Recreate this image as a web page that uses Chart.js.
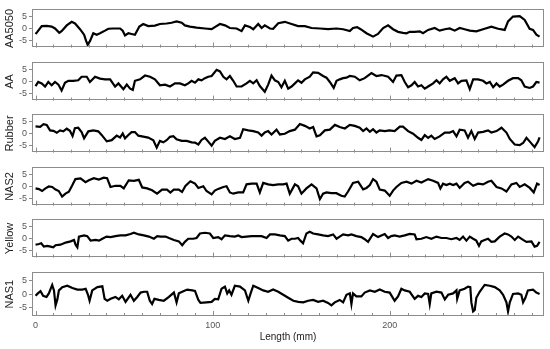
<!DOCTYPE html>
<html>
<head>
<meta charset="utf-8">
<script src="https://cdn.jsdelivr.net/npm/chart.js@4.4.1/dist/chart.umd.min.js"></script>
<style>
  html, body { margin: 0; padding: 0; background: #fff; }
  #wrap { position: relative; width: 550px; height: 349px; overflow: hidden; }
  #wrap canvas { position: absolute; left: 0; }
</style>
</head>
<body>
<div id="wrap"></div>
<script>
// profile readings, [length mm, height]
const aa5050 = [[0,-2.3],[1,-1.4],[3.5,1],[6.3,1.1],[9.1,0.8],[11,0],[13.4,-1.8],[14.7,-1.1],[17.6,1.3],[20.4,2.8],[22.3,2.1],[25.1,-0.3],[27.4,-2.6],[28.5,-5.1],[29.4,-6.8],[30.7,-5.3],[32.6,-2],[34.5,-2.6],[36.4,-2],[39.2,-0.9],[41.1,-0.1],[43.9,0],[47.7,0],[49.2,-0.9],[50.5,-2.9],[52.4,-2],[54.2,-2.3],[56.1,-2.6],[58.6,0.8],[60.8,1.9],[63.6,1],[67.4,1.2],[70.2,1.9],[74,2.1],[76.8,2.4],[79.6,3],[82.5,2.4],[84.3,1.3],[87.1,0.8],[90.9,0.4],[95.6,0],[99.4,-0.3],[101.2,0.6],[104.1,1.9],[106.9,1.3],[109.7,0.2],[113.5,0],[116.3,-1.1],[118.2,1.3],[121,0.6],[122.9,-0.3],[125.7,1.9],[127.6,0.2],[129.4,1.3],[132.3,0],[134.1,-0.1],[137,2.2],[140.7,2.8],[144.5,1.9],[148.2,1],[152,1],[155.8,0.2],[160.5,0],[165.1,-0.3],[169.9,0],[173.6,-0.3],[177.4,-1.1],[179.2,0.2],[181.5,0.6],[183.5,-0.3],[186.8,-2],[190.5,-3.4],[193.3,-2.3],[196.2,0.2],[199,1.3],[201.8,-0.3],[204.6,-1.4],[207.4,-1.8],[209.4,-2],[211.2,-1.4],[214,-1.4],[216.9,-1.2],[218.7,-2],[221.6,-0.6],[225.3,0.2],[228.1,-0.9],[231,-0.3],[233.8,0],[236.6,-0.9],[239.4,0.2],[242.2,-0.3],[245.1,-0.9],[248.8,-1.2],[252.6,-0.3],[257.3,0.8],[261.1,-0.1],[264.8,-0.6],[266.7,3],[269.5,5],[273.3,5.2],[276.1,3.6],[278.9,-0.1],[280.8,-0.6],[282.7,-2.6],[284.5,-3.4]];
const aa = [[0,-1.9],[1.5,-0.2],[3.5,-0.8],[5.4,-2.1],[7.2,-0.2],[9.1,-1.6],[11,-0.2],[12.9,-1.3],[14.7,-3.8],[16.6,-0.5],[18.5,0.3],[21.3,0.3],[24.1,0.5],[26,2],[28.9,2],[30.7,-0.2],[33.6,2],[36.4,1.2],[39.2,0.9],[42.1,0.9],[44.9,-2.1],[46.8,-0.8],[49.6,-3.2],[51.5,-1.3],[53.4,-3],[54.9,-3.5],[56.1,0.3],[59,0.9],[61.8,2.5],[64.6,2],[67.4,0.9],[70.2,-1.6],[73.1,-1.3],[75.9,-2.1],[78.7,-0.8],[81.5,-0.8],[84.3,-1.6],[86.2,-0.8],[88.1,0.3],[90,-0.5],[91.9,0.9],[93.7,0.5],[95.6,1.4],[97.5,2],[99.4,2.3],[102.2,4.9],[104.1,4.2],[106,2],[107.8,0.9],[109.7,2.3],[111.6,0.3],[113.5,-2.1],[116.3,-2.1],[119.1,-0.8],[121,0.3],[122.9,-0.8],[124.8,0.5],[126.6,-1.9],[129.4,-4.3],[131.3,-1.3],[133.2,2.5],[135.1,0.5],[137,-0.2],[138.8,-2.4],[140.7,0.3],[142.6,-3],[144.5,-2.1],[146.4,-0.8],[148.2,0.5],[150.1,-0.5],[152,0.9],[154.8,2],[156.7,3.8],[159.5,3.6],[162.3,2.3],[164.2,1.6],[166.1,-0.2],[168.3,-2.7],[169.9,0.3],[171.7,0.9],[173.6,1.4],[175.5,1.6],[177.4,2.3],[180.2,2],[183,0.5],[185.8,1.4],[189.6,3.5],[192.4,2.3],[195.3,2.7],[199,2],[201.8,-0.2],[203.7,2.5],[206.5,2.7],[208.4,-0.2],[210.3,-2.4],[212.2,-1.6],[214,-0.2],[215.9,-2.1],[217.8,-1.6],[219.7,-3],[221.6,-2.1],[224.4,-0.8],[226.3,0.5],[228.1,-0.8],[230,0.9],[231.9,2],[233.8,0.3],[236.6,1.4],[238.5,-0.8],[240.4,0.3],[243.2,0.5],[245.1,-3.2],[247,0.9],[249.8,0.9],[252.6,0.3],[254.5,-0.8],[256.4,-0.2],[258.3,-2.4],[260.2,-0.8],[262,-2.1],[263.9,-1.3],[266.7,0.3],[269.5,1.4],[272.4,1.4],[274.2,0.5],[276.1,-2.1],[278.9,-2.7],[280.8,-2.1],[282.7,-0.2],[284.5,-0.5]];
const rubber = [[0,3],[2.6,2.8],[4.5,3.9],[6.3,3.6],[8.2,1.3],[10.1,1.1],[12,0.3],[13.8,1.3],[15.7,0.9],[17.6,2],[19.4,1.1],[20.9,-1.1],[22.2,2.2],[24.1,2.4],[26,0.6],[27.4,-2],[29.8,0.9],[32.6,1.3],[35.4,0.9],[37.3,-0.6],[40.2,-3.3],[43,-2.8],[45.8,-0.9],[47.7,-1.7],[49.2,0],[50.5,-2],[52.4,-0.6],[54.2,0.6],[56.1,0.6],[58,-0.9],[60.8,-1.3],[63.6,-1.7],[66.5,-2.8],[68.4,-5.9],[70.2,-3.1],[72.1,-3.7],[74,-2.8],[75.9,-1.4],[77.8,-1.1],[79.6,-2.4],[82.5,-3.1],[85.3,-3.1],[88.1,-3.7],[90,-3.8],[91.9,-4.6],[93.7,-2.7],[95.6,-1.8],[97.5,-3.4],[99.4,-5.1],[101.2,-3.1],[104.1,-1.8],[106.9,-2.3],[109.7,-1.2],[112.5,-2.3],[115.4,-1.8],[117.2,1.8],[120.1,1.3],[122.9,1],[125.7,0.4],[127.6,-0.9],[129.4,0.4],[131.3,1],[133.2,-0.4],[136,1.6],[137.9,-0.4],[140.7,-0.1],[143.5,1],[146.4,1.6],[149.2,4],[152,3.2],[154.8,2.1],[156.7,2.7],[158.6,-1.2],[160.5,-0.7],[163.3,1.3],[166.1,1.6],[169,3.6],[171.7,2.7],[174.6,2.1],[177.4,3.6],[180.2,3.2],[183,2.4],[184.9,1],[186.8,2.1],[188.7,0.7],[190.5,1.8],[192.4,0.4],[194.3,1.3],[197.1,1],[199.9,1.3],[202.7,1],[205.6,2.9],[207.4,2.9],[210.3,1],[213.1,-0.1],[215.9,-1.8],[217.8,-2.7],[219.7,-0.7],[221.6,-1.8],[223.4,-0.9],[225.3,-2.3],[228.1,-1.2],[231,0.4],[233.8,0.4],[235.7,1],[237.6,-1.2],[239.4,1.6],[242.2,1.3],[244.1,-1.8],[246,1],[247.9,-2.3],[249.8,0.4],[252.6,0.7],[255.4,1.3],[257.3,0.4],[260.2,1],[263,2.4],[265.8,0.4],[267.7,-2.3],[270.5,-4.6],[273.3,-4.9],[275.2,-4],[277.1,-1.8],[279,-3.4],[281.7,-5.7],[283.6,-3.4],[284.5,-1.6]];
const nas2 = [[0,-0.8],[1.9,-1.1],[3.7,-1.9],[5.6,-0.8],[7.5,0],[9.4,-0.2],[11.3,-1.3],[13.1,-1.9],[15,-4.2],[16.9,-3],[18.8,-2.2],[20.6,0.3],[22.5,3.1],[25.4,3.4],[28.2,1.8],[30.1,2.6],[32.9,3.5],[35.7,2.9],[38.5,3.7],[40.4,3.5],[42.3,-0.2],[45.1,0.3],[47.9,0.3],[49.8,-0.8],[52.6,2.6],[55.5,2.4],[58.3,2.8],[60.2,-0.4],[63,-0.8],[65.8,-1.6],[68.6,-3],[71.4,-1.3],[74.2,-1.3],[76.1,-2.5],[78,-1.3],[80.8,-1.3],[82.7,-2.3],[84.6,0.2],[87.4,2.2],[90,1.2],[91.9,-0.6],[94.7,0.1],[96.5,-1.9],[99.4,-3.3],[101.2,-1.7],[103.1,-1],[106,-0.2],[107.8,0.1],[109.7,-2.5],[111.6,-3],[114.4,-2.5],[117.2,-2.5],[119.1,0.9],[121.9,1.2],[124.8,1.2],[126.6,-2.5],[128.5,1.5],[131.3,0.9],[134.1,0.6],[137,0.9],[139.8,0.9],[141.7,1.2],[143.5,-3],[146.4,0.9],[148.2,0.1],[150.1,-3],[152.9,-0.8],[155.8,0.9],[158.6,-0.8],[160.5,-5.3],[162.3,-3],[164.2,-2.5],[167,-2.8],[169.8,-2.8],[172.6,-3.9],[174.5,-4.2],[176.4,-2.1],[179.2,1.5],[182.1,2],[184.9,-1.2],[186.8,-0.6],[188.7,0.6],[190.5,3.1],[192.4,2],[194.3,-1.3],[197.1,-1.7],[199.9,-3.9],[201.8,-1.7],[203.7,-0.2],[206.5,1.5],[209.4,2],[212.2,1.2],[215,2.4],[217.8,1.7],[221.6,3.1],[224.4,2.4],[227.2,1.5],[228.5,-0.8],[230,1.2],[231.9,0.6],[233.8,1.2],[235.7,0.6],[237.6,1.2],[239.4,-0.6],[242.2,1.5],[244.1,2],[247,0.3],[249.8,1.2],[252.6,0.9],[255.4,2],[257.3,2.4],[260.2,-0.2],[263,-0.8],[265.8,-2.1],[268.6,0.9],[271.4,1.5],[273.3,-0.2],[276.1,0.9],[279,-0.6],[281.2,-2.5],[283.1,1.2],[284.5,0.6]];
const yellow = [[0,-2.6],[1.9,-2.3],[3.2,-2],[4.7,-3.4],[6.6,-3.1],[8.5,-3.4],[10,-3.7],[11.3,-2.8],[14.1,-2.6],[17,-1.7],[19.8,-1.2],[21.7,-0.6],[22.6,-2.6],[23.6,-3.7],[24.5,0.8],[27.4,1.3],[29.2,1],[31.1,-0.9],[33.9,-0.6],[35.8,-0.9],[37.7,-0.1],[40.1,0.8],[42.4,0.6],[45.1,1],[47.9,1.3],[50.8,1.3],[53.6,1.9],[55.5,2.4],[58.3,1.7],[61.1,1.3],[64,0.8],[66.8,-0.1],[68.7,1],[70.5,0.8],[73.4,0.8],[75.3,0.2],[78.1,-0.6],[80.9,-1.2],[82.8,-2.8],[84.3,-1.4],[86.2,-0.1],[89,-0.1],[90.9,0.2],[92.8,2.1],[95.6,2.4],[98.4,2.1],[100.3,0.2],[103.1,0.6],[105,-0.3],[106.9,1.3],[109.7,1],[112.5,0.8],[114.4,1.3],[116.3,0.6],[119.1,0.8],[122,1],[124.8,1],[127.6,1],[130.4,0.2],[132.3,1.7],[135.1,1.7],[137.9,1.3],[140.7,1],[142.6,-0.9],[144.5,-0.1],[146.4,-0.1],[148.2,0.2],[149.5,-0.9],[151,-2],[152.9,2.1],[154.8,2.8],[156.7,2.1],[159.5,1.7],[162.3,1.3],[165.1,1],[168,1.7],[169.9,-0.1],[171.7,0.8],[173.6,1.7],[176.4,1.3],[178.3,1.7],[181.1,1],[183.9,0.6],[185.8,-0.3],[187.7,-1.4],[190.5,1.9],[193.3,0.6],[195.2,1.3],[197.1,1.9],[199,0.2],[200.8,1],[202.7,1.3],[205.5,0.8],[208.4,1.3],[211.2,1.9],[214,1.7],[215,-0.3],[217.8,-0.1],[220.6,0.6],[223.4,-0.1],[226.3,0.8],[229.1,0.2],[231.9,0.2],[234.7,-0.3],[237.6,0.2],[239.4,-0.6],[241.3,0.8],[243.2,-0.9],[245.1,0.8],[247,-0.1],[248.8,-0.9],[250.3,-3.1],[251.6,-1.2],[253.5,-0.6],[255.4,-0.1],[257.3,-1.4],[259.2,-1.2],[262,0.8],[264.8,2.1],[266.7,1.7],[268.6,0.8],[270.5,-0.6],[272.4,0.8],[275.2,-0.6],[277.1,-1.4],[279.9,-1.2],[281.7,-3.4],[283.1,-3.1],[284.5,-1.4]];
const nas1 = [[0,-0.6],[1.3,0.3],[2.8,1.1],[4.3,-0.6],[6.2,-1],[7.5,0.3],[9.4,3.4],[10.4,1.4],[11.3,-4.1],[12.3,-1.9],[13.2,1.4],[15.1,2.6],[17.9,3.1],[20.8,2.3],[23.6,1.7],[26.4,1.7],[28.3,2],[29.6,-0.2],[30.5,-2.4],[32,1.4],[34.9,2.6],[37.7,2.9],[39,-1.7],[40.5,-2.4],[42.4,-1.7],[45.1,-1],[47,-1.9],[48.9,-0.6],[50.8,-2.8],[53.6,-0.2],[55.5,-2.4],[57.4,-1],[59.3,0.6],[61.1,0.9],[63,0.9],[64.5,-2.4],[65.8,-3.6],[67.1,-1.7],[69.6,-2.1],[72.4,-2.4],[75.3,-1],[78.1,0.6],[79.6,-3],[80.9,0.3],[82.8,0.9],[85.6,1.7],[88.5,1.4],[90,1.2],[91.9,-2.1],[93.1,-3.2],[96.5,-3],[99.4,-2.8],[101.2,-1.7],[103.1,-1.9],[105,2],[106.9,2.8],[108.2,0.3],[109.3,1.4],[110.6,-0.2],[112.5,3.1],[115.4,2.8],[118.2,1.4],[120.1,-2.4],[121.4,0.3],[122.9,3.1],[125.7,2.3],[128.5,1.4],[131.3,0.9],[134.1,1.7],[137,0.9],[139.8,-0.2],[142.6,-1.3],[145.5,-2.4],[148.3,-2.8],[151.1,-3],[153.9,-2.4],[156.7,-2.1],[159.5,-2.8],[162.3,-2.4],[165.1,-3.2],[167,-4.1],[168.9,-3],[171.7,-2.1],[173.6,-3],[175.5,-0.2],[177.4,0.3],[178.3,-3.6],[179.2,0.3],[181.1,-0.8],[183.9,-0.8],[185.8,0.6],[188.7,1.4],[191.5,0.9],[194.3,1.7],[197.1,0.9],[199.9,0.6],[202.7,-2.4],[204.6,-0.8],[206.5,2],[208.4,1.4],[211.2,0.9],[214,-1.7],[215.9,-0.6],[217.8,-1],[219.7,0.3],[221.6,0.1],[222.5,-3.6],[223.4,0.3],[226.3,0.9],[229.1,0.6],[231,-1.9],[232.9,-0.2],[235.7,0.3],[237.6,1.4],[238,-1.7],[239.4,1.4],[242.2,2],[244.1,2.8],[245.4,2.6],[246,-3],[247,-6.3],[247.9,-5.8],[248.8,-1.3],[250.7,0.9],[253.5,3.4],[256.4,3.1],[259.2,2.6],[262,1.4],[263.9,-0.2],[265.8,-3],[266.7,-6.3],[267.7,-3],[269.5,0.1],[272.4,0.3],[274.2,-0.2],[275.2,-3],[276.5,-1.3],[277.9,1.4],[280.8,1.7],[282.7,0.6],[284.5,0.1]];

const panelNames = ['AA5050', 'AA', 'Rubber', 'NAS2', 'Yellow', 'NAS1'];
const panelSeries = [aa5050, aa, rubber, nas2, yellow, nas1];
const yTicks = [-5, 0, 5];
const xTicks = [0, 100, 200];
const xTitle = 'Length (mm)';

const FONT = "'Liberation Sans', Arial, sans-serif";
const boxTops = [4, 57, 109, 162, 214, 267];
const boxH = 49;

// frame around each panel + small inward ticks along the bottom
const framePlugin = {
    id: 'frame',
    afterDatasetsDraw(chart) {
        const { ctx, chartArea: a, scales } = chart;
        ctx.save();
        ctx.strokeStyle = '#8c8c8c';
        ctx.lineWidth = 1;
        ctx.strokeRect(Math.round(a.left) + 0.5, Math.round(a.top) + 0.5,
            Math.round(a.right - a.left) - 1, Math.round(a.bottom - a.top) - 1);
        for (let v = 0; v <= 280; v += 10) {
            const x = Math.round(scales.x.getPixelForValue(v)) + 0.5;
            const len = v % 100 === 0 ? 5 : 3;
            ctx.beginPath();
            ctx.moveTo(x, a.bottom);
            ctx.lineTo(x, a.bottom - len);
            ctx.stroke();
        }
        ctx.restore();
    }
};

const wrap = document.getElementById('wrap');

panelNames.forEach((name, i) => {
    const last = i === panelNames.length - 1;
    const top = boxTops[i] - 2;
    const h = last ? 349 - top : boxH + 4;
    const canvas = document.createElement('canvas');
    canvas.width = 550;
    canvas.height = h;
    canvas.style.top = top + 'px';
    canvas.style.width = '550px';
    canvas.style.height = h + 'px';
    wrap.appendChild(canvas);

    new Chart(canvas, {
        type: 'line',
        data: {
            datasets: [{
                data: panelSeries[i].map(([x, y]) => ({ x, y })),
                borderColor: '#000',
                borderWidth: 2.2,
                pointRadius: 0,
                tension: 0
            }]
        },
        options: {
            responsive: false,
            animation: false,
            devicePixelRatio: 1,
            layout: { padding: { top: 2, right: 6, bottom: last ? 0 : 2, left: 0 } },
            plugins: { legend: { display: false }, tooltip: { enabled: false } },
            scales: {
                x: {
                    type: 'linear',
                    min: -2,
                    max: 287,
                    display: last,
                    afterBuildTicks: s => { s.ticks = xTicks.map(v => ({ value: v })); },
                    afterFit: s => { s.height = h - 2 - boxH; },
                    grid: { drawOnChartArea: false, drawTicks: false },
                    border: { display: false },
                    ticks: { padding: 4, color: '#555', font: { family: FONT, size: 9 } },
                    title: {
                        display: true,
                        text: xTitle,
                        color: '#222',
                        font: { family: FONT, size: 10 },
                        padding: { top: 4, bottom: 6 }
                    }
                },
                y: {
                    min: -8,
                    max: 8,
                    afterBuildTicks: s => { s.ticks = yTicks.map(v => ({ value: v })); },
                    afterFit: s => { s.width = 32; },
                    grid: { drawOnChartArea: false, tickLength: 3, color: '#8c8c8c' },
                    border: { display: false },
                    ticks: { padding: 2, color: '#555', font: { family: FONT, size: 9 } },
                    title: {
                        display: true,
                        text: name,
                        color: '#222',
                        font: { family: FONT, size: 11 },
                        padding: { top: 3, bottom: 0 }
                    }
                }
            }
        },
        plugins: [framePlugin]
    });
});
</script>
</body>
</html>
